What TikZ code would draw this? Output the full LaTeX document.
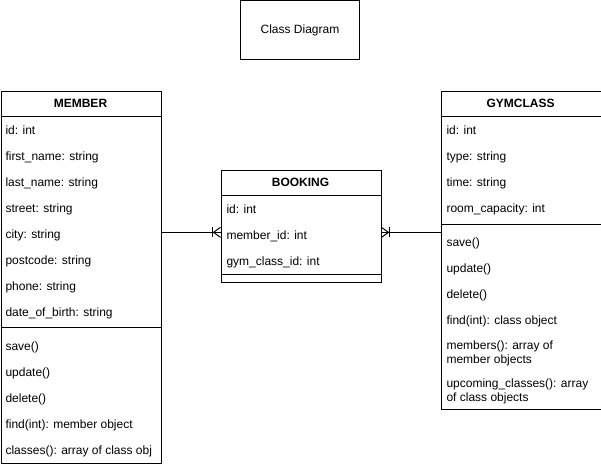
\documentclass[tikz,border=0pt]{standalone}
\usepackage{fontspec}
\setmainfont{Liberation Sans}
\usetikzlibrary{positioning}

\tikzset{
  classbox/.style={draw, rectangle, inner sep=0pt, anchor=north west},
  headtext/.style={anchor=base, inner sep=0pt, font=\fontsize{12}{14}\selectfont\bfseries},
  rowtext/.style={anchor=base west, inner sep=0pt, font=\fontsize{12}{14}\selectfont}
}

\begin{document}
\begin{tikzpicture}[x=1pt,y=-1pt,line width=1pt,line join=miter]
  \useasboundingbox (0,0) rectangle (601,466);

  % Title box
  \node[draw, minimum width=119pt, minimum height=59pt, inner sep=0pt,
        font=\fontsize{12}{14}\selectfont] (title) at (300,30) {Class Diagram};

  % MEMBER class
  \node[classbox, minimum width=160pt, minimum height=372pt] (member) at (0.5,90.5) {};
  \node[headtext] (memberhead) at (80.5,107.5) {MEMBER};
  \draw (member.west |- 0,116.5) -- (member.east |- 0,116.5);
  \node[rowtext] (m1) at (5,134.5) {id: int};
  \node[rowtext] (m2) at (5,160.5) {first\_name: string};
  \node[rowtext] (m3) at (5,186.5) {last\_name: string};
  \node[rowtext] (m4) at (5,212.5) {street: string};
  \node[rowtext] (m5) at (5,238.5) {city: string};
  \node[rowtext] (m6) at (5,264.5) {postcode: string};
  \node[rowtext] (m7) at (5,290.5) {phone: string};
  \node[rowtext] (m8) at (5,316.5) {date\_of\_birth: string};
  \draw (member.west |- 0,327.5) -- (member.east |- 0,327.5);
  \node[rowtext] (m9) at (5,350.5) {save()};
  \node[rowtext] (m10) at (5,376.5) {update()};
  \node[rowtext] (m11) at (5,402.5) {delete()};
  \node[rowtext] (m12) at (5,428.5) {find(int): member object};
  \node[rowtext] (m13) at (5,454.5) {classes(): array of class obj};

  % BOOKING class
  \node[classbox, minimum width=160pt, minimum height=112pt] (booking) at (220.5,169.5) {};
  \node[headtext] (bookinghead) at (300.5,186.5) {BOOKING};
  \draw (booking.west |- 0,195.5) -- (booking.east |- 0,195.5);
  \node[rowtext] (b1) at (226,213.5) {id: int};
  \node[rowtext] (b2) at (226,239.5) {member\_id: int};
  \node[rowtext] (b3) at (226,265.5) {gym\_class\_id: int};
  \draw (booking.west |- 0,274.5) -- (booking.east |- 0,274.5);

  % GYMCLASS class
  \node[classbox, minimum width=160pt, minimum height=318pt] (gymclass) at (440.5,90.5) {};
  \node[headtext] (gymhead) at (520.5,107.5) {GYMCLASS};
  \draw (gymclass.west |- 0,116.5) -- (gymclass.east |- 0,116.5);
  \node[rowtext] (g1) at (446,134.5) {id: int};
  \node[rowtext] (g2) at (446,160.5) {type: string};
  \node[rowtext] (g3) at (446,186.5) {time: string};
  \node[rowtext] (g4) at (446,212.5) {room\_capacity: int};
  \draw (gymclass.west |- 0,224.5) -- (gymclass.east |- 0,224.5);
  \node[rowtext] (g5) at (446,246.5) {save()};
  \node[rowtext] (g6) at (446,272.5) {update()};
  \node[rowtext] (g7) at (446,298.5) {delete()};
  \node[rowtext] (g8) at (446,324.5) {find(int): class object};
  \node[rowtext] (g9) at (446,349.5) {members(): array of};
  \node[rowtext] (g10) at (446,363.5) {member objects};
  \node[rowtext] (g11) at (446,387.5) {upcoming\_classes(): array};
  \node[rowtext] (g12) at (446,401.5) {of class objects};

  % Connectors (one to many)
  \coordinate (bw) at ([yshift=4pt]booking.west |- b2);
  \coordinate (be) at ([yshift=4pt]booking.east |- b2);
  \draw (member.east |- bw) -- (bw);
  \draw (be) -- (gymclass.west |- be);

  % crow's feet
  \draw ([xshift=-8pt,yshift=5pt]bw) -- ([xshift=-8pt,yshift=-5pt]bw);
  \draw ([yshift=5pt]bw) -- ([xshift=-7pt]bw) -- ([yshift=-5pt]bw);
  \draw ([xshift=8pt,yshift=5pt]be) -- ([xshift=8pt,yshift=-5pt]be);
  \draw ([yshift=5pt]be) -- ([xshift=7pt]be) -- ([yshift=-5pt]be);
\end{tikzpicture}
\end{document}
